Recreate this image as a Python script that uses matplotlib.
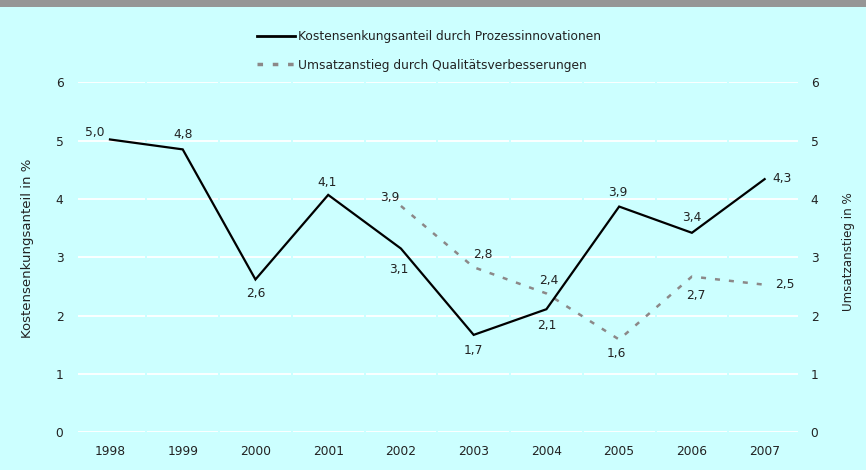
import matplotlib
matplotlib.use("Agg")
import matplotlib.pyplot as plt
from matplotlib.lines import Line2D

years = ["1998", "1999", "2000", "2001", "2002", "2003", "2004", "2005", "2006", "2007"]
kosten = [5.02, 4.85, 2.62, 4.07, 3.15, 1.67, 2.11, 3.87, 3.42, 4.34]
umsatz_years = ["2002", "2003", "2004", "2005", "2006", "2007"]
umsatz = [3.88, 2.83, 2.38, 1.59, 2.67, 2.53]
y_ticks = [0, 1, 2, 3, 4, 5, 6]
label_kosten = "Kostensenkungsanteil durch Prozessinnovationen"
label_umsatz = "Umsatzanstieg durch Qualitätsverbesserungen"
ylabel_left = "Kostensenkungsanteil in %"
ylabel_right = "Umsatzanstieg in %"

# label offsets (points) - styling only
off_kosten = [(-11, 5), (0, 11), (0, -10), (-1, 9), (-1.5, -15), (0, -11.5),
              (0, -11.5), (-1, 10), (0, 11), (12.5, 0.7)]
off_umsatz = [(-8, 6), (6.7, 9.4), (2, 9), (-2, -10), (3, -14), (14.5, 0)]

BG = "#ccffff"
TXT = "#222222"
DASH = "#8c8888"
FS = 8.8

plt.rcParams['font.family'] = ['DejaVu Sans']
fig = plt.figure(figsize=(8.66, 4.70), dpi=100, facecolor=BG)
# grey band on top
fig.add_artist(plt.Rectangle((0, 1 - 7 / 470), 1, 7 / 470, transform=fig.transFigure,
                             facecolor="#969696", edgecolor="none"))

ax = fig.add_axes([73.6 / 866, (470 - 432.3) / 470, 727.4 / 866, 350 / 470])
ax.set_facecolor(BG)
x = list(range(len(years)))
ax.set_xlim(-0.5, len(years) - 0.5)
ax.set_ylim(0, 6)

# white gridlines with small gaps at category boundaries
for yv in y_ticks:
    for i in x:
        lo = i - 0.5 + (0.06 if i == 0 else 0.014)
        hi = i + 0.5 - (0.04 if i == len(x) - 1 else 0.014)
        ax.plot([lo, hi], [yv, yv], color="white", lw=1.3, zorder=1, solid_capstyle="butt")

ax.plot(x, kosten, color="black", lw=1.6, zorder=3, solid_joinstyle="miter")
ux = [years.index(y) for y in umsatz_years]
ax.plot(ux, umsatz, color=DASH, lw=1.8, zorder=2, linestyle=(0, (2.0, 3.6)),
        dash_capstyle="butt")

for xi, v, off in zip(x, kosten, off_kosten):
    ax.annotate(f"{v:.1f}".replace(".", ","), (xi, v), xytext=off, textcoords="offset points",
                ha="center", va="center", fontsize=FS, color=TXT)
for xi, v, off in zip(ux, umsatz, off_umsatz):
    ax.annotate(f"{v:.1f}".replace(".", ","), (xi, v), xytext=off, textcoords="offset points",
                ha="center", va="center", fontsize=FS, color=TXT)

for s in ax.spines.values():
    s.set_visible(False)
ax.set_xticks(x)
ax.set_xticklabels(years)
ax.set_yticks(y_ticks)
ax.tick_params(axis="both", length=0, labelsize=FS, colors=TXT)
ax.tick_params(axis="x", pad=9.5)
ax.tick_params(axis="y", pad=7.3)
ax.set_ylabel(ylabel_left, fontsize=9.5, color=TXT)
ax.yaxis.set_label_coords(-0.0544, 0.527)

ax2 = ax.twinx()
ax2.set_ylim(0, 6)
ax2.set_yticks(y_ticks)
for s in ax2.spines.values():
    s.set_visible(False)
ax2.tick_params(axis="y", length=0, labelsize=FS, colors=TXT, pad=7)
ax2.set_ylabel(ylabel_right, fontsize=8.6, color=TXT)
ax2.yaxis.set_label_coords(1.0564, 0.515)

handles = [Line2D([], [], color="black", lw=2.0),
           Line2D([], [], color=DASH, lw=2.5, linestyle=(0, (1.6, 2.8)), dash_capstyle="butt")]
fig.legend(handles, [label_kosten, label_umsatz], loc="center left",
           bbox_to_anchor=(257 / 866, 1 - 50.85 / 470), frameon=False, fontsize=FS,
           handlelength=3.1, handletextpad=0.25, labelspacing=1.28, borderpad=0,
           borderaxespad=0, labelcolor=TXT)

fig.savefig("out.png", dpi=100, facecolor=BG)
